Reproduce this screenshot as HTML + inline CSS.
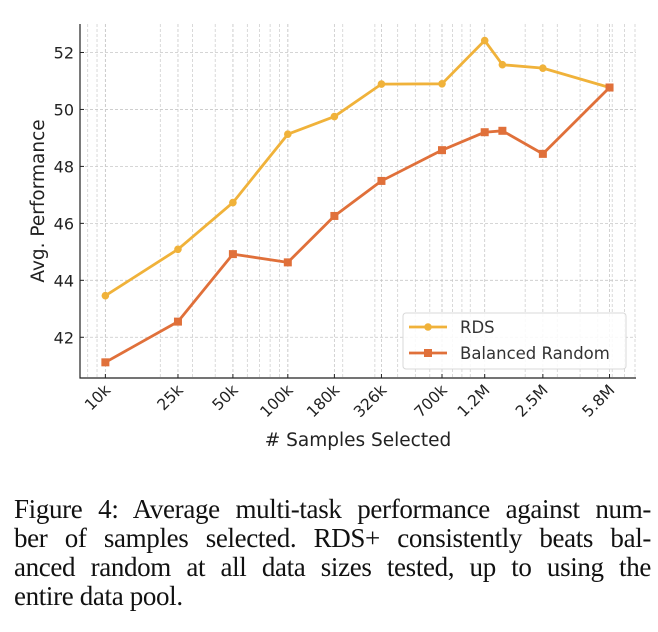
<!DOCTYPE html>
<html><head><meta charset="utf-8"><style>
html,body{margin:0;padding:0;background:#fff;width:658px;height:632px;overflow:hidden}
svg{position:absolute;left:0;top:0}
.cap{position:absolute;left:14px;width:637px;font-family:"Liberation Serif",serif;font-size:27px;color:#111;white-space:nowrap;letter-spacing:-0.35px}
.j{text-align:justify;text-align-last:justify}
</style></head><body>
<svg id="chart" width="658" height="470"></svg>
<div class="cap j" style="top:494px">Figure 4: Average multi-task performance against num-</div>
<div class="cap j" style="top:523px">ber of samples selected. RDS+ consistently beats bal-</div>
<div class="cap j" style="top:552px">anced random at all data sizes tested, up to using the</div>
<div class="cap" style="top:581px">entire data pool.</div>
<script>
const xValues=[10000,25000,50000,100000,180000,326000,700000,1200000,1500000,2500000,5800000];
const rdsValues=[43.46,45.09,46.73,49.13,49.75,50.89,50.90,52.42,51.57,51.45,50.77];
const balancedValues=[41.12,42.55,44.92,44.63,46.26,47.49,48.57,49.20,49.25,48.44,50.77];
const xTickValues=[10000,25000,50000,100000,180000,326000,700000,1200000,2500000,5800000];
const xTickLabels=["10k","25k","50k","100k","180k","326k","700k","1.2M","2.5M","5.8M"];
const yTickValues=[42,44,46,48,50,52];

const L=80,R=636,T=24,B=378;
const xMin=Math.log10(7260),xMax=Math.log10(8100000);
const yMin=40.57,yMax=53.0;
const xs=v=>L+(Math.log10(v)-xMin)/(xMax-xMin)*(R-L);
const ys=v=>B-(v-yMin)/(yMax-yMin)*(B-T);
const NS="http://www.w3.org/2000/svg";
const FONT='DejaVu Sans, Liberation Sans, sans-serif';
const svg=document.getElementById('chart');
function mk(tag,attrs,parent){const e=document.createElementNS(NS,tag);for(const k in attrs)e.setAttribute(k,attrs[k]);(parent||svg).appendChild(e);return e;}

const grid=mk('g',{});


for(let d=3;d<=7;d++){for(let m=1;m<=9;m++){const v=m*Math.pow(10,d);const lv=Math.log10(v);if(lv<xMin||lv>xMax)continue;
 const x=xs(v);const g=mk('line',{x1:x,x2:x,y1:T,y2:B,stroke:'#d0d0d0','stroke-width':0.8,'stroke-dasharray':'3,2'},grid);
 
 }}
xTickValues.forEach(v=>{const x=xs(v);const g=mk('line',{x1:x,x2:x,y1:T,y2:B,stroke:'#c8c8c8','stroke-width':0.8,'stroke-dasharray':'3,2'},grid);
 
 });
yTickValues.forEach(v=>{const y=ys(v);const g=mk('line',{x1:L,x2:R,y1:y,y2:y,stroke:'#c8c8c8','stroke-width':0.8,'stroke-dasharray':'3,2'},grid);
 
 });

const ax=mk('path',{d:`M${L},${T} L${L},${B} L${R},${B}`,fill:'none',stroke:'#222','stroke-width':1.2});



yTickValues.forEach(v=>{const y=ys(v);
 mk('line',{x1:L,x2:L+4,y1:y,y2:y,stroke:'#222'});
 const t=mk('text',{x:L-6,y:y+6,'text-anchor':'end','font-family':FONT,'font-size':16,fill:'#222'});
 t.textContent=String(v);
 
 });
xTickValues.forEach((v,i)=>{const x=xs(v);
 mk('line',{x1:x,x2:x,y1:B,y2:B-4,stroke:'#222'});
 const t=mk('text',{x:x+6,y:B+13,'text-anchor':'end','font-family':FONT,'font-size':15.5,fill:'#222',transform:`rotate(-45 ${x+6} ${B+13})`});
 t.textContent=xTickLabels[i];
 
 });

const yl=mk('text',{x:0,y:0,'text-anchor':'middle','font-family':FONT,'font-size':18.5,fill:'#222',transform:'translate(44 201) rotate(-90)'});
yl.textContent='Avg. Performance';


const xl=mk('text',{x:358,y:446,'text-anchor':'middle','font-family':FONT,'font-size':18.5,fill:'#222'});
xl.textContent='# Samples Selected';



function series(vals,color,marker,name){
 const g=mk('g',{});
 
 
 mk('polyline',{points:vals.map((v,i)=>xs(xValues[i])+','+ys(v)).join(' '),fill:'none',stroke:color,'stroke-width':2.8,'stroke-linejoin':'round'},g);
 vals.forEach((v,i)=>{const x=xs(xValues[i]),y=ys(v);let m;
  if(marker==='o')m=mk('circle',{cx:x,cy:y,r:3.8,fill:color},g);
  else m=mk('rect',{x:x-4,y:y-4,width:8,height:8,fill:color},g);
  
  });
}
series(rdsValues,'#f0b23a','o','rds-series');
series(balancedValues,'#e0703a','s','balanced-random-series');

const lg=mk('g',{});


mk('rect',{x:403,y:313,width:223,height:56,rx:3,fill:'#fff','fill-opacity':0.85,stroke:'#d8d8d8'},lg);
[['RDS','#f0b23a','o',327],['Balanced Random','#e0703a','s',353]].forEach(e=>{
 const eg=mk('g',{},lg);
 
 
 mk('line',{x1:409,x2:447,y1:e[3],y2:e[3],stroke:e[1],'stroke-width':2.8},eg);
 if(e[2]==='o')mk('circle',{cx:428,cy:e[3],r:3.8,fill:e[1]},eg);else mk('rect',{x:424,y:e[3]-4,width:8,height:8,fill:e[1]},eg);
 const t=mk('text',{x:460,y:e[3]+6,'font-family':FONT,'font-size':16.5,fill:'#333'},eg);
 t.textContent=e[0];});
</script>
</body></html>
